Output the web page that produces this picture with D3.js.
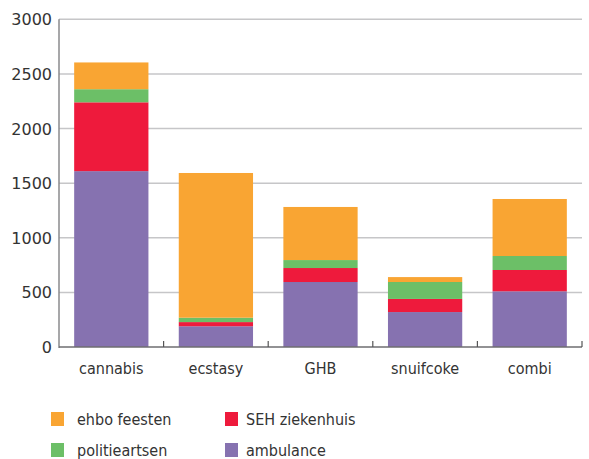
<!DOCTYPE html>
<html lang="nl">
<head>
<meta charset="UTF-8">
<title></title>
<script src="https://d3js.org/d3.v7.min.js"></script>
<style>
  body { margin: 0; background: #fff; }
  text { font-family: "DejaVu Sans", sans-serif; fill: #333; }
  .lbl { font-family: "DejaVu Sans Condensed", "DejaVu Sans", sans-serif; }
</style>
</head>
<body>
<svg id="chart" width="589" height="459"></svg>
<script>
// categories and series (stack order bottom -> top)
const categories = ["cannabis", "ecstasy", "GHB", "snuifcoke", "combi"];
const ambulance  = [1610, 190, 595, 320, 510];
const sehZiekenhuis = [630, 38, 128, 120, 195];
const politieartsen = [120, 40, 73, 155, 128];
const ehboFeesten = [245, 1325, 486, 45, 522];
const yTicks = [0, 500, 1000, 1500, 2000, 2500, 3000];

const series = [
  {key: "ambulance", label: "ambulance", values: ambulance, color: "#8672b0"},
  {key: "seh", label: "SEH ziekenhuis", values: sehZiekenhuis, color: "#ee1a3c"},
  {key: "politie", label: "politieartsen", values: politieartsen, color: "#6cbf67"},
  {key: "ehbo", label: "ehbo feesten", values: ehboFeesten, color: "#f9a533"}
];

const rows = categories.map(function(c, i) {
  let r = {cat: c};
  series.forEach(function(s) { r[s.key] = s.values[i]; });
  return r;
});

const svg = d3.select("#chart");
const mLeft = 59, mRight = 582, mTop = 19.3, mBottom = 347;

const x = d3.scaleBand().domain(categories).range([mLeft, mRight]).paddingInner(0.29).paddingOuter(0.145);
const xb = d3.scaleBand().domain(categories).range([mLeft, mRight]); // for tick marks at boundaries
const y = d3.scaleLinear().domain([0, 3000]).range([mBottom, mTop]);

// grid lines
svg.append("g").selectAll("line").data(yTicks.filter(d => d > 0)).enter().append("line")
  .attr("x1", mLeft).attr("x2", mRight)
  .attr("y1", d => y(d)).attr("y2", d => y(d))
  .attr("stroke", "#c6c6c8").attr("stroke-width", 1.5);

// y labels
svg.append("g").selectAll("text").data(yTicks).enter().append("text")
  .attr("x", 52).attr("y", d => y(d) + 6)
  .attr("text-anchor", "end").attr("font-size", 16)
  .text(d => d);

// stacked bars
const stack = d3.stack().keys(series.map(s => s.key));
const layers = stack(rows);
svg.append("g").selectAll("g").data(layers).enter().append("g")
  .attr("fill", (d, i) => series[i].color)
  .selectAll("rect").data(d => d).enter().append("rect")
  .attr("x", d => x(d.data.cat))
  .attr("width", x.bandwidth())
  .attr("y", d => y(d[1]))
  .attr("height", d => y(d[0]) - y(d[1]));

// axes lines
svg.append("line").attr("x1", mLeft).attr("x2", mLeft).attr("y1", mTop).attr("y2", mBottom + 1)
  .attr("stroke", "#8a8a8c").attr("stroke-width", 1.5);
svg.append("line").attr("x1", mLeft).attr("x2", mRight).attr("y1", mBottom).attr("y2", mBottom)
  .attr("stroke", "#6e6e70").attr("stroke-width", 1.5);
svg.append("g").selectAll("line").data(categories).enter().append("line")
  .attr("x1", d => xb(d) + xb.bandwidth()).attr("x2", d => xb(d) + xb.bandwidth())
  .attr("y1", mBottom - 6).attr("y2", mBottom)
  .attr("stroke", "#555").attr("stroke-width", 1.2);

// category labels
svg.append("g").selectAll("text").data(categories).enter().append("text")
  .attr("class", "lbl")
  .attr("x", d => x(d) + x.bandwidth() / 2).attr("y", 374)
  .attr("text-anchor", "middle").attr("font-size", 16)
  .text(d => d);

// legend
const legendItems = [series[3], series[1], series[2], series[0]];
const lg = svg.append("g").selectAll("g").data(legendItems).enter().append("g")
  .attr("transform", (d, i) => "translate(" + (i % 2 === 0 ? 51 : 225) + "," + (412 + Math.floor(i / 2) * 31) + ")");
lg.append("rect").attr("width", 13).attr("height", 14).attr("fill", d => d.color);
lg.append("text").attr("class", "lbl")
  .attr("x", (d, i) => i % 2 === 0 ? 26 : 21).attr("y", 13)
  .attr("font-size", 16).text(d => d.label);
</script>
</body>
</html>
